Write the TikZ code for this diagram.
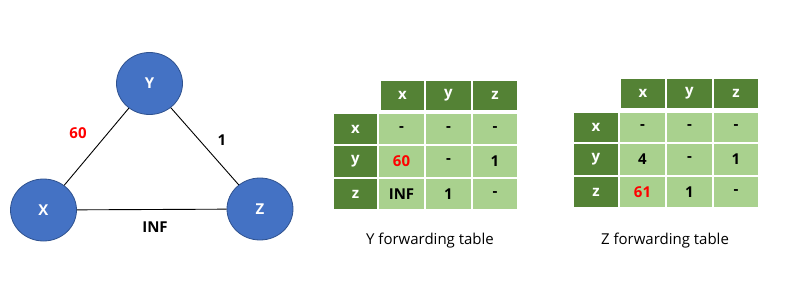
\documentclass[tikz,border=0pt]{standalone}
\usepackage{fontspec}
\setmainfont{Open Sans}
\usetikzlibrary{shapes.geometric}
\definecolor{nodeblue}{HTML}{4472C4}
\definecolor{nodeedge}{HTML}{2F528F}
\definecolor{darkg}{HTML}{548235}
\definecolor{lightg}{HTML}{A9D18E}
\definecolor{redtxt}{HTML}{FF0000}
\begin{document}
\begin{tikzpicture}[x=1pt,y=-1pt,
  router/.style={ellipse,fill=nodeblue,draw=nodeedge,line width=0.8pt,minimum width=66pt,minimum height=62pt,inner sep=0pt,text=white,font=\fontsize{15}{15}\selectfont\bfseries},
  elabel/.style={font=\fontsize{15}{15}\selectfont\bfseries,inner sep=0pt},
  link/.style={draw=black,line width=0.9pt},
  hcell/.style={fill=darkg,draw=white,line width=1.2pt,text=white,font=\fontsize{15}{15}\selectfont\bfseries,inner sep=0pt},
  bcell/.style={fill=lightg,draw=white,line width=1.2pt,text=black,font=\fontsize{15}{15}\selectfont\bfseries,inner sep=0pt},
  caption/.style={font=\fontsize{15}{15}\selectfont,inner sep=0pt}]
\useasboundingbox (0,0) rectangle (785,289);
% graph
\node[router] (Y) at (149.5,83.5) {Y};
\node[router] (X) at (43.5,210) {X};
\node[router] (Z) at (260,209) {Z};
\draw[link] (X) -- (Y);
\draw[link] (Y) -- (Z);
\draw[link] (X) -- (Z);
\node[elabel,text=redtxt] (l60) at (78,133) {60};
\node[elabel] (l1) at (222,140) {1};
\node[elabel] (linf) at (155,227) {INF};
% Y table
\path[hcell] (380,80) rectangle node (yhx) {x} (425,111);
\path[hcell] (425,80) rectangle node (yhy) {y} (472,111);
\path[hcell] (472,80) rectangle node (yhz) {z} (518,111);
\path[hcell] (333,113) rectangle node (yrx) {x} (378,145);
\path[hcell] (333,145) rectangle node (yry) {y} (378,178);
\path[hcell] (333,178) rectangle node (yrz) {z} (378,210);
\path[bcell] (378,113) rectangle node (y11) {-} (425,145);
\path[bcell] (425,113) rectangle node (y12) {-} (472,145);
\path[bcell] (472,113) rectangle node (y13) {-} (518,145);
\path[bcell] (378,145) rectangle node[text=redtxt] (y21) {60} (425,178);
\path[bcell] (425,145) rectangle node (y22) {-} (472,178);
\path[bcell] (472,145) rectangle node (y23) {1} (518,178);
\path[bcell] (378,178) rectangle node (y31) {INF} (425,210);
\path[bcell] (425,178) rectangle node (y32) {1} (472,210);
\path[bcell] (472,178) rectangle node (y33) {-} (518,210);
\node[caption] (ycap) at (430,241) {Y forwarding table};
% Z table
\path[hcell] (620,78) rectangle node (zhx) {x} (666,109);
\path[hcell] (666,78) rectangle node (zhy) {y} (713,109);
\path[hcell] (713,78) rectangle node (zhz) {z} (759,109);
\path[hcell] (573,112) rectangle node (zrx) {x} (619,143);
\path[hcell] (573,143) rectangle node (zry) {y} (619,176);
\path[hcell] (573,176) rectangle node (zrz) {z} (619,208);
\path[bcell] (619,112) rectangle node (z11) {-} (666,143);
\path[bcell] (666,112) rectangle node (z12) {-} (713,143);
\path[bcell] (713,112) rectangle node (z13) {-} (759,143);
\path[bcell] (619,143) rectangle node (z21) {4} (666,176);
\path[bcell] (666,143) rectangle node (z22) {-} (713,176);
\path[bcell] (713,143) rectangle node (z23) {1} (759,176);
\path[bcell] (619,176) rectangle node[text=redtxt] (z31) {61} (666,208);
\path[bcell] (666,176) rectangle node (z32) {1} (713,208);
\path[bcell] (713,176) rectangle node (z33) {-} (759,208);
\node[caption] (zcap) at (665,241) {Z forwarding table};
\end{tikzpicture}
\end{document}
